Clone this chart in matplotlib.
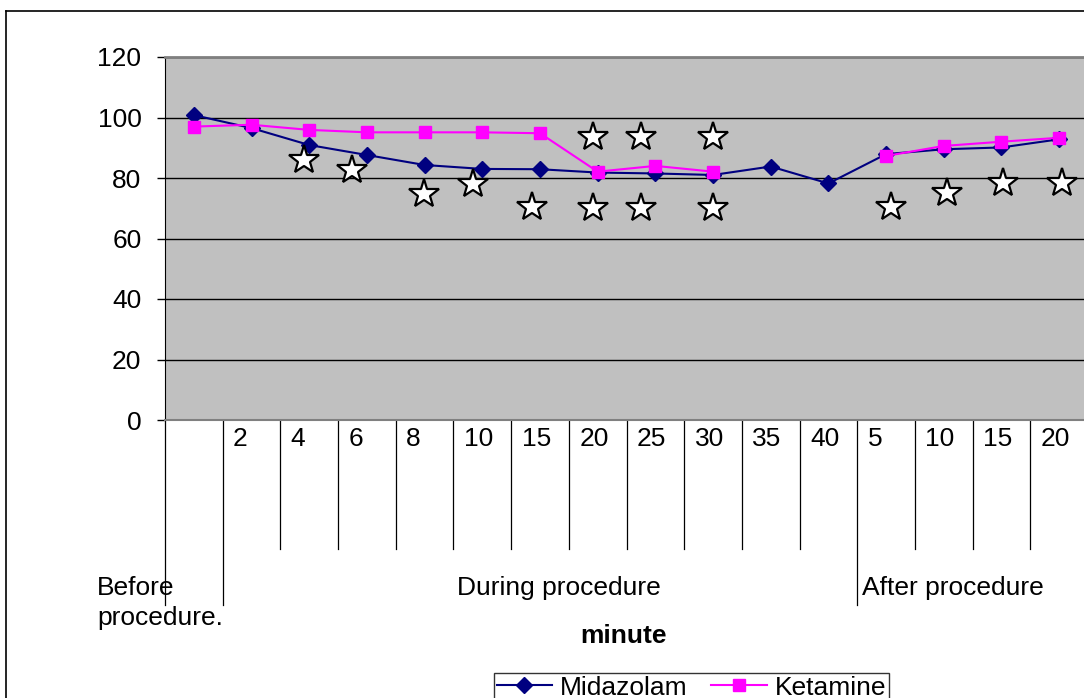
import matplotlib
matplotlib.use('Agg')
import matplotlib.pyplot as plt
import matplotlib.transforms as mtransforms
from matplotlib.lines import Line2D
import numpy as np

plt.rcParams['font.family'] = ['Liberation Sans', 'DejaVu Sans']

# categorías del eje x (minutos) y grupos
minutes = ['', '2', '4', '6', '8', '10', '15', '20', '25', '30', '35', '40',
           '5', '10', '15', '20']
groups = ['Before\nprocedure.', 'During procedure', 'After procedure']
group_starts = [0, 1, 12]

midazolam = [100.8, 96.5, 90.9, 87.6, 84.3, 83.0, 82.9, 81.8, 81.5, 81.0,
             83.8, 78.2, 87.9, 89.5, 90.1, 92.8]
ketamine = [97.0, 97.6, 95.9, 95.1, 95.1, 95.1, 94.8, 82.1, 84.0, 82.1,
            np.nan, np.nan, 87.3, 90.6, 92.0, 93.3]

# estrellas de significación (índice de categoría, valor)
star_x = [1.91, 2.74, 3.99, 4.84, 5.86, 6.92, 6.92, 7.75, 7.75, 9.0, 9.0,
          12.08, 13.05, 14.02, 15.05]
star_y = [86.0, 82.6, 74.7, 78.0, 70.4, 93.5, 70.1, 93.5, 70.1, 93.5, 70.1,
          70.4, 75.0, 78.3, 78.3]

W, H = 1084, 698
FS = 19
fig = plt.figure(figsize=(W / 100, H / 100), dpi=100)

# borde exterior del gráfico
fig.add_artist(Line2D([6 / W, 6 / W], [0, 1 - 11 / H], color='black', lw=1.2))
fig.add_artist(Line2D([6 / W, 1], [1 - 11 / H, 1 - 11 / H], color='black', lw=1.2))

ax = fig.add_axes([165 / W, (H - 420) / H, 923 / W, 363 / H])
ax.set_facecolor('#c0c0c0')

x = np.arange(len(minutes)) + 0.5
ax.plot(x, midazolam, color='#000080', lw=1.5, marker='D', ms=8,
        label='Midazolam', zorder=3)
ax.plot(x, ketamine, color='#ff00ff', lw=1.5, marker='s', ms=8.5,
        label='Ketamine', zorder=4)
ax.plot(np.array(star_x) + 0.5, star_y, ls='none', marker='*', ms=22,
        mfc='white', mec='black', mew=1.6, zorder=5)

ax.set_xlim(0, len(minutes))
ax.set_ylim(0, 120)
ax.set_yticks(np.arange(0, 121, 20))
ax.tick_params(axis='y', length=6, width=1, pad=11, labelsize=FS)
ax.set_xticks([])
ax.yaxis.grid(True, color='black', lw=1)
ax.set_axisbelow(True)
ax.spines['right'].set_visible(False)
ax.spines['top'].set_color('#808080')
ax.spines['top'].set_linewidth(2)
ax.spines['bottom'].set_color('#808080')
ax.spines['bottom'].set_linewidth(1.5)
ax.spines['left'].set_color('black')


def ypix(py):
    return (420 - py) / 363


trans = mtransforms.blended_transform_factory(ax.transData, ax.transAxes)

# separadores de categorías (tabla del eje x)
for b in range(0, len(minutes)):
    bottom = 605 if b in group_starts else 549
    ax.plot([b, b], [0, ypix(bottom)], color='black', lw=0.9,
            transform=trans, clip_on=False)

for i, lab in enumerate(minutes):
    if lab:
        ax.text(i + 0.18, ypix(439), lab, transform=trans, fontsize=FS,
                ha='left', va='center')

ax.text(-1.18, ypix(603), groups[0], transform=trans, fontsize=FS,
        ha='left', va='center', linespacing=1.3)
ax.text(6.83, ypix(588), groups[1], transform=trans, fontsize=FS,
        ha='center', va='center')
ax.text(12.08, ypix(588), groups[2], transform=trans, fontsize=FS,
        ha='left', va='center')
ax.text(7.95, ypix(636), 'minute', transform=trans, fontsize=FS,
        fontweight='bold', ha='center', va='center')

fig.legend(loc='upper left', bbox_to_anchor=(494 / W, (H - 673) / H),
           ncol=2, frameon=True, fancybox=False, edgecolor='black',
           fontsize=FS, borderaxespad=0, borderpad=0.1,
           handlelength=2.1, handletextpad=0.3, columnspacing=0.9)

fig.savefig('out.png', dpi=100)
